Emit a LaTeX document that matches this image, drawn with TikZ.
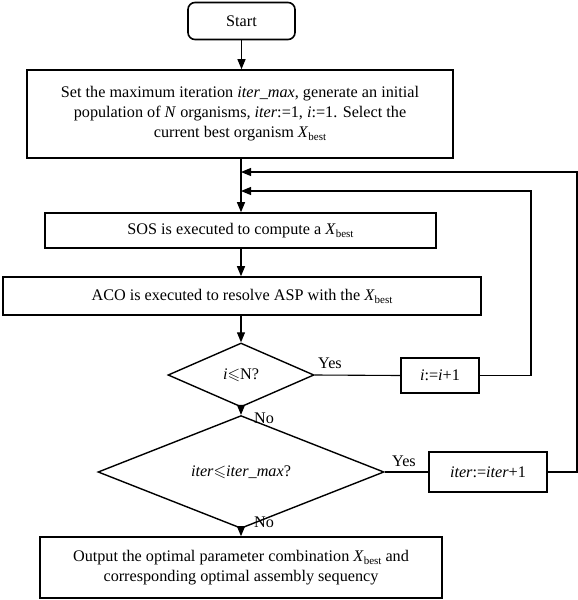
\documentclass[tikz,border=0pt]{standalone}
\usepackage{fontspec}
\usepackage{amssymb}
\setmainfont{Liberation Serif}
\usetikzlibrary{arrows.meta,shapes.geometric}
\newcommand{\Xbest}{\textit{X}\raisebox{-0.4ex}{\fontsize{11}{11}\selectfont best}}
\begin{document}
\begin{tikzpicture}[x=1pt,y=-1pt,
  font=\fontsize{16.2}{20}\selectfont,
  box/.style={draw,line width=1.6pt,rectangle,align=center,inner sep=0pt},
  dia/.style={draw,line width=1.4pt,diamond,inner sep=0pt},
  conn/.style={line width=1.1pt},
  arr/.style={line width=1.1pt,-{Triangle[length=10pt,width=8pt]}},
  lab/.style={inner sep=0pt}]
\useasboundingbox (0,0) rectangle (578,600);
\node[box,rounded corners=7pt,minimum width=107pt,minimum height=37pt] (start) at (241.5,21) {Start};
\node[box,minimum width=426pt,minimum height=88pt] (box1) at (240,114)
  {Set the maximum iteration \textit{iter\_max}, generate an initial\\
   population of \textit{N} organisms\textit{,} \textit{iter}:=1, \textit{i}:=1. Select the\\
   current best organism \Xbest};
\node[box,minimum width=391pt,minimum height=35pt] (sos) at (240.5,230.5) {SOS is executed to compute a \Xbest};
\node[box,minimum width=478pt,minimum height=38pt] (aco) at (242,296) {ACO is executed to resolve ASP with the \Xbest};
\node[dia,minimum width=146pt,minimum height=64pt] (d1) at (241,375) {\textit{i}$\leqslant$N?};
\node[dia,minimum width=286pt,minimum height=74pt] (d2) at (241,472) {\textit{iter}$\leqslant$\textit{iter\_max}?};
\node[box,minimum width=78pt,minimum height=35pt] (inc1) at (440,375.5) {\textit{i}:=\textit{i}+1};
\node[box,minimum width=118pt,minimum height=40pt] (inc2) at (488,472) {\textit{iter}:=\textit{iter}+1};
\node[box,minimum width=402pt,minimum height=61pt] (out) at (241,567.5)
  {Output the optimal parameter combination \Xbest{} and\\
   corresponding optimal assembly sequency};
\coordinate (j1) at (241,172);
\coordinate (j2) at (241,191);
\coordinate (r1) at (531,375.5);
\coordinate (r2) at (577,472);
% main flow
\draw[arr] (start.south) -- (start.south |- box1.north);
\draw[arr] (box1.south -| j1) -- (sos.north -| j1);
\draw[arr] (sos.south -| j1) -- (aco.north -| j1);
\draw[arr] (aco.south -| j1) -- (d1.north);
\draw[arr] (d1.south) -- (d2.north);
\draw[arr] (d2.south) -- (out.north -| d2.south);
% yes branches
\draw[conn] (d1.east) -- (inc1.west);
\draw[conn] (d2.east) -- (inc2.west);
\draw[arr] (inc1.east) -- (r1) |- (j2);
\draw[arr] (inc2.east) -- (r2) |- (j1);
% labels
\node[lab] (y1) at (330,363) {Yes};
\node[lab] (n1) at (264,418) {No};
\node[lab] (y2) at (404,461) {Yes};
\node[lab] (n2) at (264,522) {No};
\end{tikzpicture}
\end{document}
